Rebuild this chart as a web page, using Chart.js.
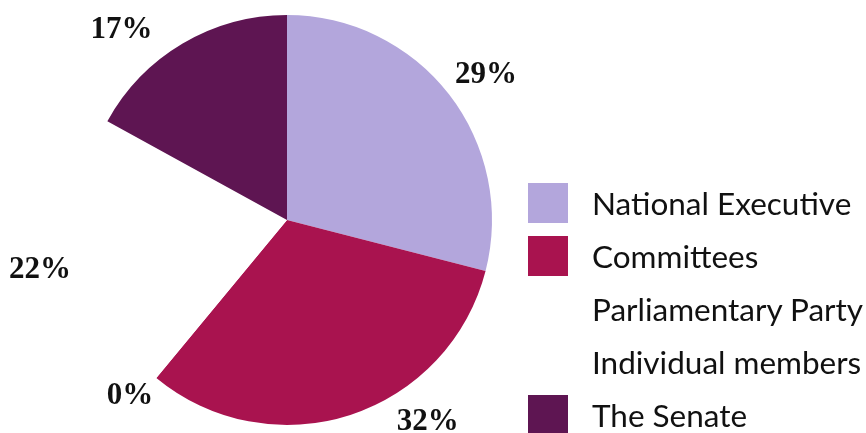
<!DOCTYPE html>
<html>
<head>
<meta charset="utf-8">
<script src="https://cdn.jsdelivr.net/npm/chart.js@4"></script>
<style>
  html, body { margin: 0; padding: 0; background: #fff; }
  #wrap { position: relative; width: 866px; height: 433px; }
  #legend { position: absolute; left: 528px; top: 183px; margin: 0; padding: 0; list-style: none;
            font-family: Lato, sans-serif; font-size: 31.5px; color: #111; }
  #legend li { display: flex; align-items: center; height: 40px; margin-bottom: 13px; }
  #legend span.box { display: inline-block; width: 40px; height: 40px; margin-right: 24px; }
</style>
</head>
<body>
<div id="wrap">
  <canvas id="pieChart" width="866" height="433"></canvas>
  <ul id="legend"></ul>
</div>
<script>
const categories = ['National Executive', 'Committees', 'Parliamentary Party', 'Individual members', 'The Senate'];
const shares = [29, 32, 22, 0, 17];
const colours = ['#b3a6dc', '#a9134f', '#ffffff', '#ffffff', '#5e1552'];

// % labels: position around the circle (in % of a full turn, from the top) and distance as a multiple of the radius
const labelAt = [15.0, 40.3, 71.8, 61.6, 88.6];
const labelDist = [1.2, 1.2, 1.23, 1.15, 1.23];

const pctLabels = {
    id: 'pctLabels',
    afterDatasetsDraw(chart) {
        const ctx = chart.ctx;
        const arcs = chart.getDatasetMeta(0).data;
        ctx.save();
        ctx.font = 'bold 31px "Liberation Serif", serif';
        ctx.fillStyle = '#111';
        ctx.textAlign = 'center';
        ctx.textBaseline = 'middle';
        arcs.forEach((arc, i) => {
            const p = arc.getProps(['x', 'y', 'outerRadius'], true);
            const a = -Math.PI / 2 + 2 * Math.PI * labelAt[i] / 100;
            const r = p.outerRadius * labelDist[i];
            ctx.fillText(shares[i] + '%', p.x + Math.cos(a) * r, p.y + Math.sin(a) * r);
        });
        ctx.restore();
    }
};

new Chart(document.getElementById('pieChart').getContext('2d'), {
    type: 'pie',
    data: {
        labels: categories,
        datasets: [{
            data: shares,
            backgroundColor: colours,
            borderWidth: 0
        }]
    },
    options: {
        responsive: false,
        animation: false,
        layout: { padding: { left: 82, right: 374, top: 15, bottom: 8 } },
        plugins: {
            legend: { display: false },
            tooltip: { enabled: false }
        }
    },
    plugins: [pctLabels]
});

const legend = document.getElementById('legend');
categories.forEach((name, i) => {
    const li = document.createElement('li');
    const box = document.createElement('span');
    box.className = 'box';
    box.style.background = colours[i];
    li.appendChild(box);
    li.appendChild(document.createTextNode(name));
    legend.appendChild(li);
});
</script>
</body>
</html>
